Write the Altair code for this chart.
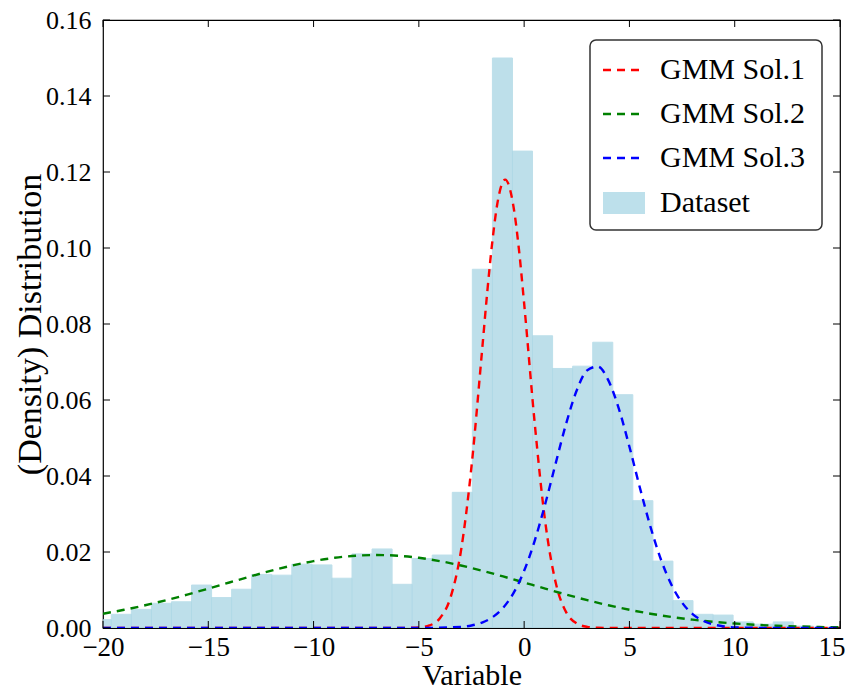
import altair as alt
import pandas as pd

FONT = "Liberation Serif"

# ---------------- data ----------------
bin_left = [-20.559, -19.606, -18.654, -17.701, -16.749, -15.796, -14.843, -13.891,
            -12.938, -11.986, -11.033, -10.080, -9.128, -8.175, -7.223, -6.270,
            -5.317, -4.365, -3.412, -2.460, -1.507, -0.554, 0.398, 1.351,
            2.303, 3.256, 4.209, 5.161, 6.114, 7.066, 8.019, 8.972,
            9.924, 10.877, 11.829, 12.782]
bin_right = [-19.606, -18.654, -17.701, -16.749, -15.796, -14.843, -13.891, -12.938,
             -11.986, -11.033, -10.080, -9.128, -8.175, -7.223, -6.270, -5.317,
             -4.365, -3.412, -2.460, -1.507, -0.554, 0.398, 1.351, 2.303,
             3.256, 4.209, 5.161, 6.114, 7.066, 8.019, 8.972, 9.924,
             10.877, 11.829, 12.782, 13.734]
density = [0.0022, 0.0036, 0.0049, 0.0065, 0.0069, 0.0113, 0.0080, 0.0102,
           0.0141, 0.0139, 0.0168, 0.0166, 0.0131, 0.0195, 0.0208, 0.0115,
           0.0183, 0.0192, 0.0357, 0.0944, 0.1500, 0.1255, 0.0769, 0.0683,
           0.0689, 0.0752, 0.0614, 0.0335, 0.0176, 0.0072, 0.0036, 0.0034,
           0.0016, 0.0010, 0.0016, 0.0005]

sol1_x = [-20, -15, -10, -7, -6, -5.5, -5, -4.5, -4, -3.5, -3, -2.5, -2, -1.75, -1.5,
          -1.25, -0.9, -0.5, -0.25, 0, 0.5, 1, 1.5, 2, 2.5, 3, 3.5, 4, 5, 10, 15]
sol1_y = [0, 0, 0, 0, 0, 0.00003, 0.00015, 0.00067, 0.00256, 0.00798, 0.0203, 0.0425,
          0.0729, 0.0885, 0.1022, 0.1124, 0.1180, 0.1107, 0.0998, 0.0854, 0.0540,
          0.0280, 0.0119, 0.0041, 0.0012, 0.0003, 0.00005, 0, 0, 0, 0]

sol2_x = [-20, -19, -18, -17, -16, -15, -14, -13, -12, -11, -10, -9, -8, -7, -6, -5,
          -4, -3, -2, -1, 0, 1, 2, 3, 4, 5, 6, 7, 8, 9, 10, 11, 12, 13, 14, 15]
sol2_y = [0.00376, 0.00479, 0.00598, 0.00732, 0.00879, 0.01036, 0.01197, 0.01357,
          0.01509, 0.01645, 0.01760, 0.01847, 0.01902, 0.01920, 0.01902, 0.01847,
          0.01760, 0.01645, 0.01509, 0.01357, 0.01197, 0.01036, 0.00879, 0.00732,
          0.00598, 0.00479, 0.00376, 0.00290, 0.00219, 0.00163, 0.00118, 0.00084,
          0.00059, 0.00041, 0.00027, 0.00018]

sol3_x = [-20, -10, -5, -3, -2.5, -2, -1.5, -1, -0.5, 0, 0.5, 1, 1.5, 2, 2.5, 3, 3.5,
          4, 4.5, 5, 5.5, 6, 6.5, 7, 7.5, 8, 8.5, 9, 9.5, 10, 12, 15]
sol3_y = [0, 0, 0, 0.00029, 0.00067, 0.00142, 0.00284, 0.00530, 0.00925, 0.01506,
          0.02294, 0.03262, 0.04338, 0.05389, 0.06256, 0.06786, 0.06879, 0.06516,
          0.05767, 0.04769, 0.03686, 0.02662, 0.01796, 0.01133, 0.00667, 0.00367,
          0.00189, 0.00091, 0.00041, 0.00017, 0, 0]

series_names = ["GMM Sol.1", "GMM Sol.2", "GMM Sol.3"]
series_colors = ["#ff0000", "#008000", "#0000ff"]
dataset_name = "Dataset"

x_ticks = [-20, -15, -10, -5, 0, 5, 10, 15]
y_ticks = [0.0, 0.02, 0.04, 0.06, 0.08, 0.10, 0.12, 0.14, 0.16]

# ---------------- layout ----------------
W, H = 737, 608
TICK = 7
BAR_FILL = "#add8e6"

X_SCALE = alt.Scale(domain=[-20, 15], nice=False, zero=False)
Y_SCALE = alt.Scale(domain=[0, 0.16], nice=False, zero=False)

x_axis = alt.Axis(values=x_ticks, title="Variable", format="d", tickSize=0, domain=False,
                  grid=False, labelFontSize=27, titleFontSize=30, labelPadding=6,
                  labelFont=FONT, titleFont=FONT, titleFontWeight="normal",
                  labelColor="black", titleColor="black", titlePadding=0,
                  labelFlush=False,
                  labelAlign={"expr": "datum.value == 15 ? 'right' : 'center'"},
                  labelOffset={"expr": "datum.value == 15 ? 5 : 0"})
y_axis = alt.Axis(values=y_ticks, title="(Density) Distribution", format=".2f", tickSize=0,
                  domain=False, grid=False, labelFontSize=26, titleFontSize=34,
                  labelPadding=12, labelFont=FONT, titleFont=FONT,
                  titleFontWeight="normal", labelColor="black", titleColor="black",
                  titlePadding=-2, labelFlush=False)

hist_df = pd.DataFrame({"left": bin_left, "right": bin_right, "density": density})

bars = alt.Chart(hist_df).mark_rect(
    clip=True, fill=BAR_FILL, opacity=0.8, stroke=BAR_FILL, strokeWidth=1
).encode(
    x=alt.X("left:Q", scale=X_SCALE, axis=x_axis),
    x2="right:Q",
    y=alt.Y("density:Q", scale=Y_SCALE, axis=y_axis),
    y2=alt.datum(0),
)

def curve(xs, ys, color):
    df = pd.DataFrame({"left": xs, "density": ys})
    return alt.Chart(df).mark_line(
        color=color, strokeDash=[8, 6], strokeWidth=2.4, interpolate="monotone", clip=True
    ).encode(
        x=alt.X("left:Q", scale=X_SCALE, axis=x_axis),
        y=alt.Y("density:Q", scale=Y_SCALE, axis=y_axis),
    )

c1 = curve(sol1_x, sol1_y, series_colors[0])
c2 = curve(sol2_x, sol2_y, series_colors[1])
c3 = curve(sol3_x, sol3_y, series_colors[2])

xt_df = pd.DataFrame({"left": x_ticks})
yt_df = pd.DataFrame({"density": y_ticks})
tick_style = dict(color="black", strokeWidth=1)
xt_bottom = alt.Chart(xt_df).mark_rule(**tick_style).encode(
    x=alt.X("left:Q", scale=X_SCALE, axis=x_axis), y=alt.value(H), y2=alt.value(H - TICK))
xt_top = alt.Chart(xt_df).mark_rule(**tick_style).encode(
    x=alt.X("left:Q", scale=X_SCALE, axis=x_axis), y=alt.value(0), y2=alt.value(TICK))
yt_left = alt.Chart(yt_df).mark_rule(**tick_style).encode(
    y=alt.Y("density:Q", scale=Y_SCALE, axis=y_axis), x=alt.value(0), x2=alt.value(TICK))
yt_right = alt.Chart(yt_df).mark_rule(**tick_style).encode(
    y=alt.Y("density:Q", scale=Y_SCALE, axis=y_axis), x=alt.value(W), x2=alt.value(W - TICK))

# ---------------- legend ----------------
one = pd.DataFrame({"k": [0]})
LX0, LX1, LY0, LY1 = 487, 719, 20, 210
legend_box = alt.Chart(one).mark_rect(
    fill="white", stroke="#333333", strokeWidth=1.5, cornerRadius=6
).encode(x=alt.value(LX0), x2=alt.value(LX1), y=alt.value(LY0), y2=alt.value(LY1))

entry_y = [50, 94, 138, 183]
legend_layers = [legend_box]
for i, (name, color) in enumerate(zip(series_names, series_colors)):
    legend_layers.append(
        alt.Chart(one).mark_rule(color=color, strokeDash=[8, 6], strokeWidth=2.4).encode(
            x=alt.value(500), x2=alt.value(542), y=alt.value(entry_y[i]))
    )
legend_layers.append(
    alt.Chart(one).mark_rect(fill=BAR_FILL, opacity=0.8).encode(
        x=alt.value(500), x2=alt.value(542), y=alt.value(entry_y[3] - 11),
        y2=alt.value(entry_y[3] + 11))
)
all_names = series_names + [dataset_name]
for i, name in enumerate(all_names):
    legend_layers.append(
        alt.Chart(pd.DataFrame({"name": [name]})).mark_text(
            align="left", baseline="middle", font=FONT, fontSize=30, color="black"
        ).encode(x=alt.value(557), y=alt.value(entry_y[i]), text="name:N")
    )

chart = alt.layer(
    bars, c1, c2, c3, xt_bottom, xt_top, yt_left, yt_right, *legend_layers
).properties(
    width=W, height=H,
    autosize=alt.AutoSizeParams(type="none"),
    padding={"left": 95, "top": 12, "right": 5, "bottom": 62},
    background="white",
).configure_view(
    stroke="black", strokeWidth=1.2
)

chart.save("out.html", embed_options={"renderer": "svg", "actions": False})
